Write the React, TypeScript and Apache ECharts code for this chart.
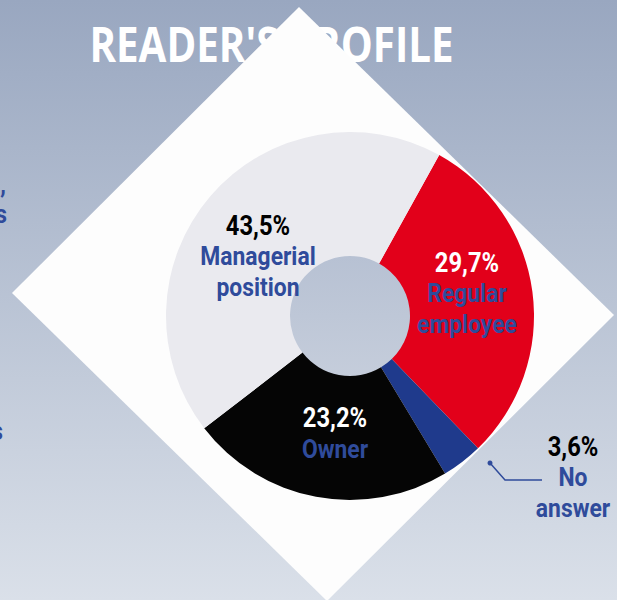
import React, { useEffect, useRef } from "react";
import * as echarts from "echarts";

const TITLE = "READER'S PROFILE";
const CATEGORIES = ["Regular\nemployee", "No\nanswer", "Owner", "Managerial\nposition"];
const VALUES = [29.7, 3.6, 23.2, 43.5];
const SLICE_COLORS = ["#e2001a", "#1f3a8c", "#050505", "#eaeaef"];
const PCT_STYLE = ["pw", "pb", "pw", "pb"];
const LABEL_POS: [number, number][] = [
  [467, 293],
  [573, 477],
  [335, 433],
  [258, 256],
];

const W = 617;
const H = 600;
const CENTER: [number, number] = [350, 316];
const R_IN = 60;
const R_OUT = 184;
const BLUE = "#2f4b9b";
const FONT = "Roboto, 'Noto Sans', sans-serif";
const SX = 0.88;

export default function App() {
  const ref = useRef<HTMLDivElement>(null);
  useEffect(() => {
    document.body.style.margin = "0";
    if (!ref.current) return;
    const chart = echarts.init(ref.current, undefined, { renderer: "svg" });
    const fmt = (v: number) => v.toFixed(1).replace(".", ",") + "%";
    const rich = {
      pw: { fill: "#ffffff", font: `bold 27px ${FONT}`, lineHeight: 31 },
      pb: { fill: "#000000", font: `bold 27px ${FONT}`, lineHeight: 31 },
      n: { fill: BLUE, font: `bold 26px ${FONT}`, lineHeight: 31 },
    };
    const labelTexts = CATEGORIES.map((name, i) => {
      const txt =
        `{${PCT_STYLE[i]}|${fmt(VALUES[i])}}\n` +
        name
          .split("\n")
          .map((s) => `{n|${s}}`)
          .join("\n");
      return {
        type: "text",
        z: 60,
        silent: true,
        x: LABEL_POS[i][0],
        y: LABEL_POS[i][1],
        scaleX: SX,
        style: {
          text: txt,
          rich,
          textAlign: "center",
          textVerticalAlign: "middle",
        },
      };
    });
    const edgeText = (t: string, x: number, y: number) => ({
      type: "text",
      z: 50,
      silent: true,
      x,
      y,
      scaleX: SX,
      style: { text: t, fill: BLUE, font: `bold 26px ${FONT}`, textAlign: "right", textVerticalAlign: "middle" },
    });
    chart.setOption({
      animation: false,
      graphic: {
        elements: [
          {
            type: "rect",
            z: -20,
            silent: true,
            shape: { x: 0, y: 0, width: W, height: H },
            style: {
              fill: new echarts.graphic.LinearGradient(0, 0, 0, 1, [
                { offset: 0, color: "#99a7c0" },
                { offset: 1, color: "#dae0e9" },
              ]),
            },
          },
          {
            type: "text",
            z: -19,
            silent: true,
            x: 271.5,
            y: 44,
            scaleX: 0.84,
            style: {
              text: TITLE,
              fill: "#ffffff",
              font: "bold 48px 'Open Sans', sans-serif",
              textAlign: "center",
              textVerticalAlign: "middle",
            },
          },
          {
            type: "polygon",
            z: -18,
            silent: true,
            shape: { points: [[299, 7], [614, 315], [327, 601], [12, 293]] },
            style: { fill: "#fdfdfd" },
          },
          {
            type: "circle",
            z: -17,
            silent: true,
            shape: { cx: CENTER[0], cy: CENTER[1], r: R_IN + 1 },
            style: {
              fill: new echarts.graphic.LinearGradient(0, 0, 0, 1, [
                { offset: 0, color: "#b7c1d3" },
                { offset: 1, color: "#c5cddb" },
              ]),
            },
          },
          {
            type: "polyline",
            z: 50,
            silent: true,
            shape: { points: [[490, 463], [505, 480], [542, 480]] },
            style: { stroke: BLUE, lineWidth: 1.5, fill: null },
          },
          {
            type: "circle",
            z: 50,
            silent: true,
            shape: { cx: 490, cy: 463, r: 2.5 },
            style: { fill: BLUE },
          },
          edgeText(",", 6, 184),
          edgeText("s", 7, 214),
          edgeText("s", 3, 431),
          ...labelTexts,
        ],
      },
      series: [
        {
          type: "pie",
          z: 2,
          center: CENTER,
          radius: [R_IN, R_OUT],
          startAngle: 61,
          clockwise: true,
          silent: true,
          emphasis: { disabled: true },
          label: { show: false },
          labelLine: { show: false },
          data: CATEGORIES.map((name, i) => ({
            name,
            value: VALUES[i],
            itemStyle: { color: SLICE_COLORS[i] },
          })),
        },
      ],
    });
    return () => chart.dispose();
  }, []);
  return <div ref={ref} style={{ width: W, height: H }} />;
}
